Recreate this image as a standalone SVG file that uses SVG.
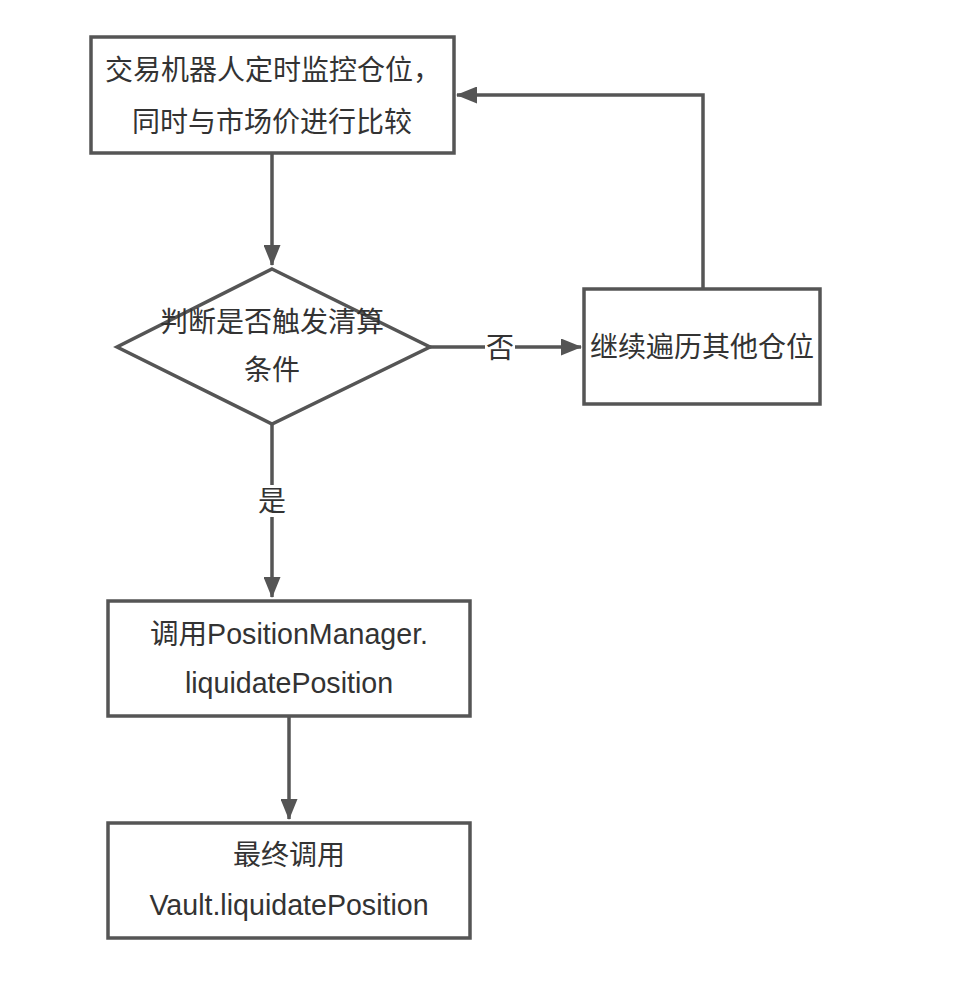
<svg xmlns="http://www.w3.org/2000/svg" width="976" height="1004" viewBox="0 0 976 1004">
<style>
.n{fill:#fff;stroke:#555;stroke-width:3.5}
.t{font-family:"Liberation Sans","Noto Sans CJK SC",sans-serif;font-size:28px;fill:#333;text-anchor:middle;dominant-baseline:central}
.lat{font-size:28.6px}
.c{fill:none;stroke:#555;stroke-width:3.5}
.lb{fill:#fff}
</style>
<defs>
<marker id="ah" markerWidth="21" markerHeight="17" refX="20" refY="8.5" orient="auto" markerUnits="userSpaceOnUse">
<path d="M0,0 L21,8.5 L0,17 Z" fill="#555"/>
</marker>
</defs>
<rect width="976" height="1004" fill="#fff"/>
<g id="connectors">
<path class="c" d="M272,153 V265" marker-end="url(#ah)"/>
<path class="c" d="M430,347 H581" marker-end="url(#ah)"/>
<path class="c" d="M703,289 V95 H457" marker-end="url(#ah)"/>
<path class="c" d="M272,424 V597" marker-end="url(#ah)"/>
<path class="c" d="M289,716 V819" marker-end="url(#ah)"/>
<rect class="lb" x="485" y="332" width="30" height="32"/>
<text class="t" x="500" y="348">否</text>
<rect class="lb" x="257" y="485" width="30" height="32"/>
<text class="t" x="272" y="501">是</text>
</g>
<g id="monitor">
<rect class="n" x="91" y="37" width="363" height="116"/>
<text class="t" x="273" y="70">交易机器人定时监控仓位，</text>
<text class="t" x="272" y="122">同时与市场价进行比较</text>
</g>
<g id="decision">
<polygon class="n" points="272,269 430,347 272,424 117,347"/>
<text class="t" x="272" y="322">判断是否触发清算</text>
<text class="t" x="272" y="370">条件</text>
</g>
<g id="continue">
<rect class="n" x="584" y="289" width="236" height="115"/>
<text class="t" x="702" y="347">继续遍历其他仓位</text>
</g>
<g id="pm">
<rect class="n" x="108" y="601" width="362" height="115"/>
<text class="t lat" x="289" y="634">调用PositionManager.</text>
<text class="t lat" x="289" y="683">liquidatePosition</text>
</g>
<g id="vault">
<rect class="n" x="108" y="823" width="362" height="115"/>
<text class="t" x="289" y="855">最终调用</text>
<text class="t lat" x="289" y="905">Vault.liquidatePosition</text>
</g>
</svg>
